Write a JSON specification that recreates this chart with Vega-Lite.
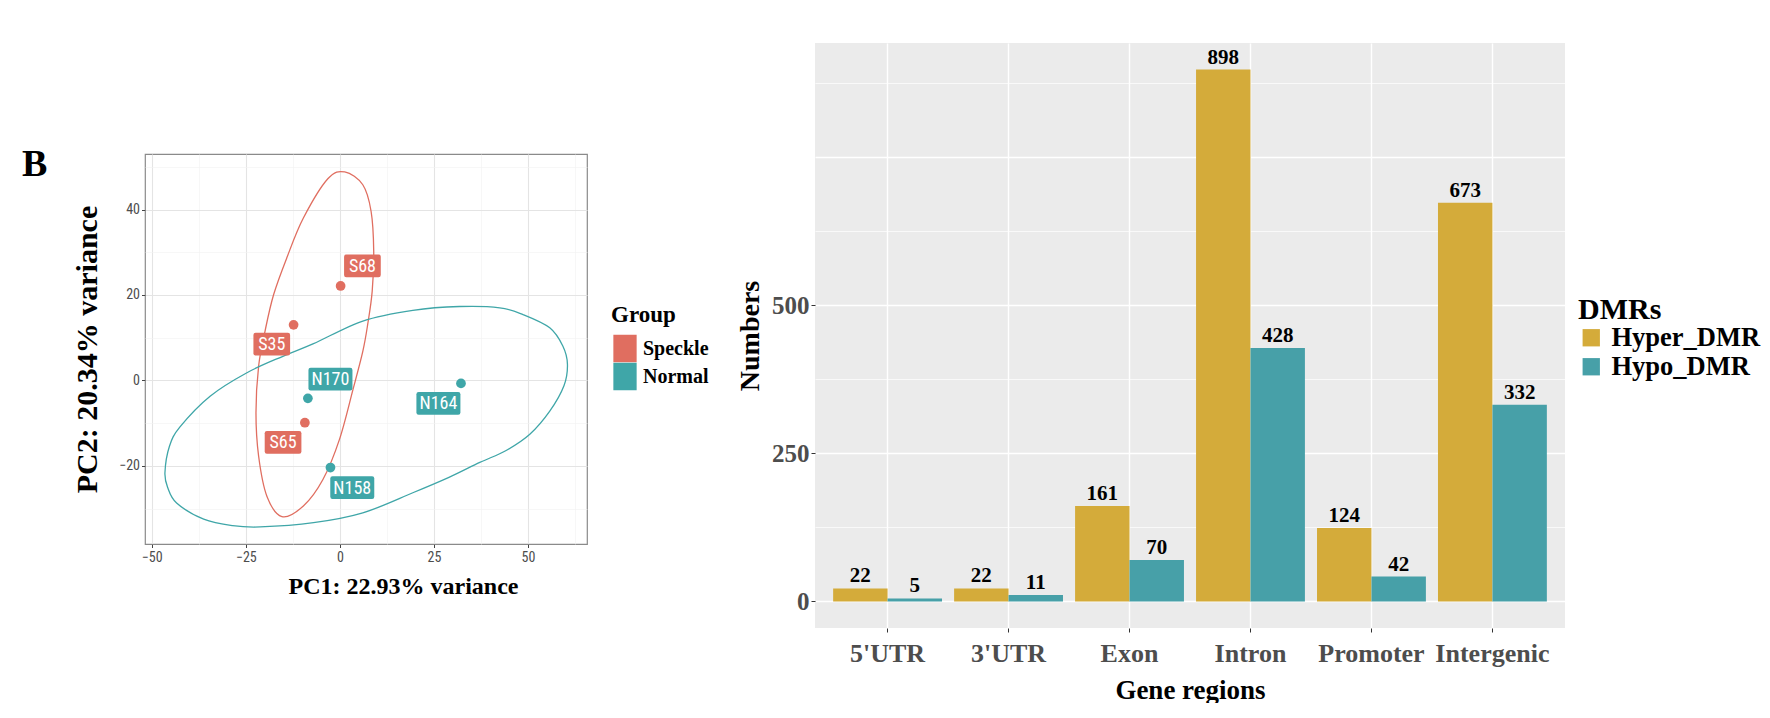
{
  "$schema": "https://vega.github.io/schema/vega-lite/v6.json",
  "background": "white",
  "padding": {"left": 21, "top": 43, "right": 0, "bottom": 0},
  "datasets": {
    "pca": [
      {"sample": "S68", "group": "Speckle", "pc1": 0.2, "pc2": 22.1, "lx": 6.0, "ly": 26.8},
      {"sample": "S35", "group": "Speckle", "pc1": -12.3, "pc2": 13.0, "lx": -18.1, "ly": 8.5},
      {"sample": "S65", "group": "Speckle", "pc1": -9.3, "pc2": -9.9, "lx": -15.1, "ly": -14.5},
      {"sample": "N170", "group": "Normal", "pc1": -8.5, "pc2": -4.2, "lx": -2.5, "ly": 0.3},
      {"sample": "N164", "group": "Normal", "pc1": 32.2, "pc2": -0.7, "lx": 26.2, "ly": -5.4},
      {"sample": "N158", "group": "Normal", "pc1": -2.5, "pc2": -20.4, "lx": 3.3, "ly": -25.1}
    ],
    "ell": [
      {"group": "Speckle", "k": 1, "pc1": 1.3, "pc2": 48.8},
      {"group": "Speckle", "k": 2, "pc1": 6.1, "pc2": 45.8},
      {"group": "Speckle", "k": 3, "pc1": 8.3, "pc2": 39.6},
      {"group": "Speckle", "k": 4, "pc1": 9.0, "pc2": 30.3},
      {"group": "Speckle", "k": 5, "pc1": 8.6, "pc2": 20.9},
      {"group": "Speckle", "k": 6, "pc1": 7.4, "pc2": 13.1},
      {"group": "Speckle", "k": 7, "pc1": 6.1, "pc2": 6.8},
      {"group": "Speckle", "k": 8, "pc1": 3.5, "pc2": -2.1},
      {"group": "Speckle", "k": 9, "pc1": -0.1, "pc2": -13.8},
      {"group": "Speckle", "k": 10, "pc1": -4.5, "pc2": -23.2},
      {"group": "Speckle", "k": 11, "pc1": -9.7, "pc2": -29.4},
      {"group": "Speckle", "k": 12, "pc1": -15.4, "pc2": -31.9},
      {"group": "Speckle", "k": 13, "pc1": -19.4, "pc2": -27.1},
      {"group": "Speckle", "k": 14, "pc1": -21.6, "pc2": -17.7},
      {"group": "Speckle", "k": 15, "pc1": -22.3, "pc2": -7.6},
      {"group": "Speckle", "k": 16, "pc1": -21.6, "pc2": 3.3},
      {"group": "Speckle", "k": 17, "pc1": -19.9, "pc2": 11.5},
      {"group": "Speckle", "k": 18, "pc1": -17.6, "pc2": 20.1},
      {"group": "Speckle", "k": 19, "pc1": -14.1, "pc2": 28.7},
      {"group": "Speckle", "k": 20, "pc1": -9.7, "pc2": 38.0},
      {"group": "Speckle", "k": 21, "pc1": -3.2, "pc2": 47.2},
      {"group": "Normal", "k": 1, "pc1": -46.5, "pc2": -21.6},
      {"group": "Normal", "k": 2, "pc1": -45.3, "pc2": -15.4},
      {"group": "Normal", "k": 3, "pc1": -42.5, "pc2": -10.9},
      {"group": "Normal", "k": 4, "pc1": -34.5, "pc2": -3.7},
      {"group": "Normal", "k": 5, "pc1": -24.7, "pc2": 1.8},
      {"group": "Normal", "k": 6, "pc1": -15.0, "pc2": 5.7},
      {"group": "Normal", "k": 7, "pc1": -7.0, "pc2": 8.6},
      {"group": "Normal", "k": 8, "pc1": 6.1, "pc2": 13.9},
      {"group": "Normal", "k": 9, "pc1": 19.4, "pc2": 16.4},
      {"group": "Normal", "k": 10, "pc1": 31.8, "pc2": 17.3},
      {"group": "Normal", "k": 11, "pc1": 42.5, "pc2": 17.0},
      {"group": "Normal", "k": 12, "pc1": 48.7, "pc2": 15.4},
      {"group": "Normal", "k": 13, "pc1": 55.8, "pc2": 12.3},
      {"group": "Normal", "k": 14, "pc1": 59.3, "pc2": 8.0},
      {"group": "Normal", "k": 15, "pc1": 60.5, "pc2": 3.8},
      {"group": "Normal", "k": 16, "pc1": 59.6, "pc2": -1.2},
      {"group": "Normal", "k": 17, "pc1": 55.8, "pc2": -7.2},
      {"group": "Normal", "k": 18, "pc1": 50.5, "pc2": -12.6},
      {"group": "Normal", "k": 19, "pc1": 44.2, "pc2": -16.4},
      {"group": "Normal", "k": 20, "pc1": 37.2, "pc2": -19.2},
      {"group": "Normal", "k": 21, "pc1": 29.0, "pc2": -22.7},
      {"group": "Normal", "k": 22, "pc1": 19.4, "pc2": -26.3},
      {"group": "Normal", "k": 23, "pc1": 6.1, "pc2": -31.0},
      {"group": "Normal", "k": 24, "pc1": -7.0, "pc2": -33.3},
      {"group": "Normal", "k": 25, "pc1": -21.2, "pc2": -34.3},
      {"group": "Normal", "k": 26, "pc1": -28.5, "pc2": -34.0},
      {"group": "Normal", "k": 27, "pc1": -36.2, "pc2": -32.5},
      {"group": "Normal", "k": 28, "pc1": -43.4, "pc2": -28.7},
      {"group": "Normal", "k": 29, "pc1": -45.8, "pc2": -25.0}
    ],
    "dmr": [
      {"region": "5'UTR", "dmr": "Hyper_DMR", "n": 22},
      {"region": "5'UTR", "dmr": "Hypo_DMR", "n": 5},
      {"region": "3'UTR", "dmr": "Hyper_DMR", "n": 22},
      {"region": "3'UTR", "dmr": "Hypo_DMR", "n": 11},
      {"region": "Exon", "dmr": "Hyper_DMR", "n": 161},
      {"region": "Exon", "dmr": "Hypo_DMR", "n": 70},
      {"region": "Intron", "dmr": "Hyper_DMR", "n": 898},
      {"region": "Intron", "dmr": "Hypo_DMR", "n": 428},
      {"region": "Promoter", "dmr": "Hyper_DMR", "n": 124},
      {"region": "Promoter", "dmr": "Hypo_DMR", "n": 42},
      {"region": "Intergenic", "dmr": "Hyper_DMR", "n": 673},
      {"region": "Intergenic", "dmr": "Hypo_DMR", "n": 332}
    ]
  },
  "resolve": {"scale": {"color": "independent"}, "legend": {"color": "independent"}},
  "spacing": 27,
  "hconcat": [
    {
      "spacing": 0,
      "vconcat": [
        {
          "width": 1,
          "height": 102,
          "data": {"values": []},
          "mark": "point",
          "view": {"stroke": null}
        },
        {
          "width": 442,
          "height": 390,
          "view": {"stroke": "#8a8a8a", "strokeWidth": 1.2, "fill": "white"},
          "title": {"text": "B", "orient": "left", "anchor": "end", "frame": "group", "angle": 0, "align": "right", "baseline": "top", "offset": 0, "dy": -8, "fontSize": 38, "font": "Times New Roman, Liberation Serif, serif", "fontWeight": "bold", "color": "black"},
          "layer": [
            {
              "data": {"name": "ell"},
              "mark": {"type": "line", "interpolate": "cardinal-closed", "strokeWidth": 1.3},
              "encoding": {
                "x": {"field": "pc1", "type": "quantitative"},
                "y": {"field": "pc2", "type": "quantitative"},
                "color": {"field": "group", "type": "nominal"},
                "order": {"field": "k", "type": "quantitative"}
              }
            },
            {
              "data": {"name": "pca"},
              "mark": {"type": "circle", "size": 95, "opacity": 1},
              "encoding": {
                "x": {
                  "field": "pc1", "type": "quantitative",
                  "scale": {"domain": [-51.8, 65.7], "nice": false, "zero": false},
                  "axis": {
                    "title": "PC1: 22.93% variance",
                    "values": [-50, -37.5, -25, -12.5, 0, 12.5, 25, 37.5, 50, 62.5],
                    "labelExpr": "datum.value % 25 === 0 ? datum.label : ''",
                    "labelOverlap": false,
                    "grid": true,
                    "gridColor": {"condition": {"test": "datum.value % 25 === 0", "value": "#E4E4E4"}, "value": "#F1F1F1"},
                    "gridWidth": {"condition": {"test": "datum.value % 25 === 0", "value": 1.1}, "value": 0.6},
                    "tickColor": "#444444",
                    "tickOpacity": {"condition": {"test": "datum.value % 25 === 0", "value": 1}, "value": 0},
                    "tickSize": 3.5,
                    "domain": false,
                    "labelFont": "Liberation Sans Narrow, Arial Narrow, Roboto Condensed, DejaVu Sans Condensed, Roboto, sans-serif",
                    "labelFontSize": 14,
                    "labelColor": "#4D4D4D",
                    "labelPadding": 3,
                    "titleFont": "Times New Roman, Liberation Serif, serif",
                    "titleFontSize": 24,
                    "titleFontWeight": "bold",
                    "titleColor": "black",
                    "titlePadding": 10,
                    "titleX": 258
                  }
                },
                "y": {
                  "field": "pc2", "type": "quantitative",
                  "scale": {"domain": [-38.3, 53.0], "nice": false, "zero": false},
                  "axis": {
                    "title": "PC2: 20.34% variance",
                    "values": [-30, -20, -10, 0, 10, 20, 30, 40, 50],
                    "labelExpr": "datum.value % 20 === 0 ? datum.label : ''",
                    "labelOverlap": false,
                    "grid": true,
                    "gridColor": {"condition": {"test": "datum.value % 20 === 0", "value": "#E4E4E4"}, "value": "#F1F1F1"},
                    "gridWidth": {"condition": {"test": "datum.value % 20 === 0", "value": 1.1}, "value": 0.6},
                    "tickColor": "#444444",
                    "tickOpacity": {"condition": {"test": "datum.value % 20 === 0", "value": 1}, "value": 0},
                    "tickSize": 3.5,
                    "domain": false,
                    "labelFont": "Liberation Sans Narrow, Arial Narrow, Roboto Condensed, DejaVu Sans Condensed, Roboto, sans-serif",
                    "labelFontSize": 14,
                    "labelColor": "#4D4D4D",
                    "labelPadding": 2,
                    "titleFont": "Times New Roman, Liberation Serif, serif",
                    "titleFontSize": 30,
                    "titleFontWeight": "bold",
                    "titleColor": "black",
                    "titlePadding": 16
                  }
                },
                "color": {
                  "field": "group", "type": "nominal",
                  "scale": {"domain": ["Speckle", "Normal"], "range": ["#E06E60", "#3FA6A8"]},
                  "legend": {
                    "title": "Group",
                    "orient": "none",
                    "legendX": 466,
                    "legendY": 260.5,
                    "padding": 0,
                    "symbolType": "M-0.847,-1L0.847,-1L0.847,1L-0.847,1Z",
                    "symbolSize": 756,
                    "symbolStrokeWidth": 0,
                    "symbolOpacity": 1,
                    "rowPadding": 0,
                    "titlePadding": 8,
                    "labelOffset": 4,
                    "titleFont": "Times New Roman, Liberation Serif, serif",
                    "titleFontSize": 23,
                    "titleFontWeight": "bold",
                    "titleColor": "black",
                    "labelFont": "Times New Roman, Liberation Serif, serif",
                    "labelFontSize": 20,
                    "labelFontWeight": "bold",
                    "labelColor": "black"
                  }
                }
              }
            },
            {
              "data": {"name": "pca"},
              "mark": {"type": "point", "filled": true, "opacity": 1, "strokeWidth": 0},
              "encoding": {
                "x": {"field": "lx", "type": "quantitative"},
                "y": {"field": "ly", "type": "quantitative"},
                "color": {"field": "group", "type": "nominal"},
                "shape": {
                  "condition": {"test": "length(datum.sample) === 3", "value": "M-0.88,-0.62L0.88,-0.62Q1,-0.62 1,-0.5L1,0.5Q1,0.62 0.88,0.62L-0.88,0.62Q-1,0.62 -1,0.5L-1,-0.5Q-1,-0.62 -0.88,-0.62Z"},
                  "value": "M-0.9,-0.516L0.9,-0.516Q1,-0.516 1,-0.416L1,0.416Q1,0.516 0.9,0.516L-0.9,0.516Q-1,0.516 -1,0.416L-1,-0.416Q-1,-0.516 -0.9,-0.516Z"
                },
                "size": {
                  "condition": {"test": "length(datum.sample) === 3", "value": 1347},
                  "value": 1936
                }
              }
            },
            {
              "data": {"name": "pca"},
              "mark": {"type": "text", "color": "white", "font": "Liberation Sans Narrow, Arial Narrow, Roboto Condensed, DejaVu Sans Condensed, Roboto, sans-serif", "fontSize": 18, "align": "center", "baseline": "middle", "dy": 1},
              "encoding": {
                "x": {"field": "lx", "type": "quantitative"},
                "y": {"field": "ly", "type": "quantitative"},
                "text": {"field": "sample"}
              }
            }
          ]
        }
      ]
    },
    {
      "width": 750,
      "height": 585,
      "view": {"fill": "#EBEBEB", "stroke": null},
      "data": {"name": "dmr"},
      "encoding": {
        "x": {
          "field": "region", "type": "nominal",
          "sort": ["5'UTR", "3'UTR", "Exon", "Intron", "Promoter", "Intergenic"],
          "scale": {"paddingInner": 0.1, "paddingOuter": 0.15},
          "axis": {
            "title": "Gene regions",
            "labelAngle": 0,
            "bandPosition": 0.5,
            "grid": true,
            "gridColor": "white",
            "gridWidth": 1.4,
            "domain": false,
            "tickColor": "#333333",
            "tickSize": 4,
            "labelPadding": 8,
            "labelFont": "Times New Roman, Liberation Serif, serif",
            "labelFontSize": 26,
            "labelFontWeight": "bold",
            "labelColor": "#4D4D4D",
            "titleFont": "Times New Roman, Liberation Serif, serif",
            "titleFontSize": 27,
            "titleFontWeight": "bold",
            "titleColor": "black",
            "titlePadding": 11
          }
        },
        "xOffset": {"field": "dmr", "type": "nominal", "sort": ["Hyper_DMR", "Hypo_DMR"], "scale": {"paddingInner": 0, "paddingOuter": 0}},
        "y": {
          "field": "n", "type": "quantitative",
          "scale": {"domain": [-44.9, 942.9], "nice": false, "zero": false},
          "axis": {
            "title": "Numbers",
            "values": [0, 125, 250, 375, 500, 625, 750, 875],
            "labelExpr": "datum.value === 0 || datum.value === 250 || datum.value === 500 ? datum.label : ''",
            "labelOverlap": false,
            "grid": true,
            "gridColor": "white",
            "gridWidth": {"condition": {"test": "datum.value % 250 === 0", "value": 1.4}, "value": 0.7},
            "domain": false,
            "tickColor": "#333333",
            "tickOpacity": {"condition": {"test": "datum.value % 250 === 0 && datum.value <= 500", "value": 1}, "value": 0},
            "tickSize": 4,
            "labelPadding": 2,
            "labelFont": "Times New Roman, Liberation Serif, serif",
            "labelFontSize": 25,
            "labelFontWeight": "bold",
            "labelColor": "#4D4D4D",
            "titleFont": "Times New Roman, Liberation Serif, serif",
            "titleFontSize": 28,
            "titleFontWeight": "bold",
            "titleColor": "black",
            "titlePadding": 7
          }
        }
      },
      "layer": [
        {
          "mark": {"type": "bar"},
          "encoding": {
            "y2": {"datum": 0},
            "color": {
              "field": "dmr", "type": "nominal",
              "scale": {"domain": ["Hyper_DMR", "Hypo_DMR"], "range": ["#D4AB3A", "#47A0A8"]},
              "legend": {
                "title": "DMRs",
                "orient": "none",
                "legendX": 763,
                "legendY": 251.5,
                "padding": 0,
                "symbolType": "square",
                "symbolSize": 300,
                "symbolStrokeWidth": 0,
                "symbolOpacity": 1,
                "rowPadding": 2,
                "titlePadding": 0,
                "labelOffset": 7,
                "titleFont": "Times New Roman, Liberation Serif, serif",
                "titleFontSize": 30,
                "titleFontWeight": "bold",
                "titleColor": "black",
                "labelFont": "Times New Roman, Liberation Serif, serif",
                "labelFontSize": 26.5,
                "labelFontWeight": "bold",
                "labelColor": "black"
              }
            }
          }
        },
        {
          "mark": {"type": "text", "baseline": "alphabetic", "align": "center", "dy": -6, "font": "Times New Roman, Liberation Serif, serif", "fontSize": 21, "fontWeight": "bold", "color": "black"},
          "encoding": {
            "text": {"field": "n", "type": "quantitative"}
          }
        }
      ]
    }
  ]
}
